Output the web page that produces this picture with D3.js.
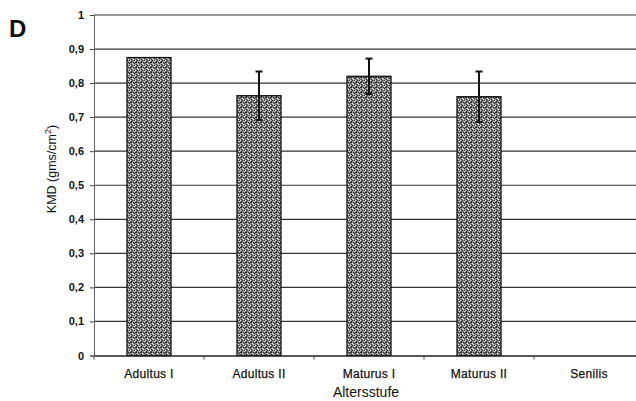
<!DOCTYPE html>
<html>
<head>
<meta charset="utf-8">
<script src="https://cdn.jsdelivr.net/npm/d3@7"></script>
<style>
  body { margin: 0; background: #fff; }
  svg { font-family: "Liberation Sans", Arial, sans-serif; }
</style>
</head>
<body>
<script>
// values
var categories = ["Adultus I", "Adultus II", "Maturus I", "Maturus II", "Senilis"];
var means = [0.875, 0.763, 0.82, 0.76, null];
var errors = [null, 0.071, 0.052, 0.074, null];
var yTicks = [0, 0.1, 0.2, 0.3, 0.4, 0.5, 0.6, 0.7, 0.8, 0.9, 1];

var w = 636, h = 401;
var plotLeft = 94, plotTop = 15, plotBottom = 355.5;
var bandW = 110;

var svg = d3.select("body").append("svg")
    .attr("width", w)
    .attr("height", h);

// stippled bar texture
var defs = svg.append("defs");
var pat = defs.append("pattern")
    .attr("id", "stip")
    .attr("patternUnits", "userSpaceOnUse")
    .attr("width", 5).attr("height", 5);
pat.append("rect").attr("width", 5).attr("height", 5).attr("fill", "#8e8e8e");
[[0,0],[2,0],[1,1],[4,1],[3,2],[0,2],[2,3],[4,3],[1,4],[3,4],[4,0],[1,2]].forEach(function(p, i) {
    pat.append("rect").attr("x", p[0]).attr("y", p[1])
        .attr("width", 1).attr("height", 1)
        .attr("fill", i % 3 ? "#2a2a2a" : "#e4e4e4");
});

var x = d3.scaleBand()
    .domain(categories)
    .range([plotLeft, plotLeft + bandW * categories.length])
    .paddingInner(0.6)
    .paddingOuter(0.3);

var y = d3.scaleLinear()
    .domain([0, 1])
    .range([plotBottom, plotTop]);

// horizontal gridlines
svg.append("g")
    .selectAll("line")
    .data(yTicks.slice(1))
    .enter().append("line")
    .attr("x1", plotLeft).attr("x2", w)
    .attr("y1", function(d) { return y(d); })
    .attr("y2", function(d) { return y(d); })
    .attr("stroke", "#333")
    .attr("stroke-width", 1.2);

// y axis
var yAxis = svg.append("g")
    .attr("transform", "translate(" + plotLeft + ",0)")
    .call(d3.axisLeft(y).tickValues(yTicks).tickSize(4).tickPadding(6)
        .tickFormat(function(d) { return d3.format("")(d).replace(".", ","); }));
yAxis.select(".domain").attr("stroke", "#666");
yAxis.selectAll(".tick line").attr("stroke", "#444");
yAxis.selectAll("text")
    .attr("font-size", "11px")
    .attr("font-weight", "bold")
    .attr("fill", "#111");

// bars
svg.append("g")
    .selectAll("rect")
    .data(categories.filter(function(c, i) { return means[i] != null; }))
    .enter().append("rect")
    .attr("x", function(d) { return x(d); })
    .attr("width", x.bandwidth())
    .attr("y", function(d) { return y(means[categories.indexOf(d)]); })
    .attr("height", function(d) { return plotBottom - y(means[categories.indexOf(d)]); })
    .attr("fill", "url(#stip)")
    .attr("stroke", "#111")
    .attr("stroke-width", 1.3);

// error bars
var eb = svg.append("g")
    .selectAll("g")
    .data(categories.filter(function(c, i) { return errors[i] != null; }))
    .enter().append("g")
    .attr("stroke", "#111")
    .attr("stroke-width", 2);
eb.append("line")
    .attr("x1", function(d) { return x(d) + x.bandwidth() / 2; })
    .attr("x2", function(d) { return x(d) + x.bandwidth() / 2; })
    .attr("y1", function(d) { var i = categories.indexOf(d); return y(means[i] + errors[i]); })
    .attr("y2", function(d) { var i = categories.indexOf(d); return y(means[i] - errors[i]); });
[1, -1].forEach(function(s) {
    eb.append("line")
        .attr("x1", function(d) { return x(d) + x.bandwidth() / 2 - 3.5; })
        .attr("x2", function(d) { return x(d) + x.bandwidth() / 2 + 3.5; })
        .attr("y1", function(d) { var i = categories.indexOf(d); return y(means[i] + s * errors[i]); })
        .attr("y2", function(d) { var i = categories.indexOf(d); return y(means[i] + s * errors[i]); });
});

// x axis
var xAxis = svg.append("g")
    .attr("transform", "translate(0," + plotBottom + ")")
    .call(d3.axisBottom(x).tickSize(0).tickPadding(14));
xAxis.select(".domain").attr("stroke", "#222").attr("stroke-width", 1.4);
xAxis.selectAll("text")
    .attr("font-size", "12px")
    .attr("letter-spacing", "0.3px")
    .attr("stroke", "#111")
    .attr("stroke-width", 0.25)
    .attr("fill", "#111");
// tick marks between categories
svg.append("g")
    .selectAll("line")
    .data(d3.range(categories.length + 1))
    .enter().append("line")
    .attr("x1", function(i) { return plotLeft + i * bandW; })
    .attr("x2", function(i) { return plotLeft + i * bandW; })
    .attr("y1", plotBottom).attr("y2", plotBottom + 4)
    .attr("stroke", "#444");

// titles
svg.append("text")
    .attr("x", 366).attr("y", 397)
    .attr("text-anchor", "middle")
    .attr("font-size", "14px")
    .attr("fill", "#111")
    .text("Altersstufe");

var yt = svg.append("text")
    .attr("transform", "translate(56,169) rotate(-90)")
    .attr("text-anchor", "middle")
    .attr("font-size", "12.5px")
    .attr("fill", "#111");
yt.append("tspan").text("KMD (gms/cm");
yt.append("tspan").attr("dy", -5).attr("font-size", "9px").text("2");
yt.append("tspan").attr("dy", 5).text(")");

svg.append("text")
    .attr("x", 9).attr("y", 37)
    .attr("font-size", "24px")
    .attr("font-weight", "bold")
    .attr("fill", "#111")
    .text("D");
</script>
</body>
</html>
